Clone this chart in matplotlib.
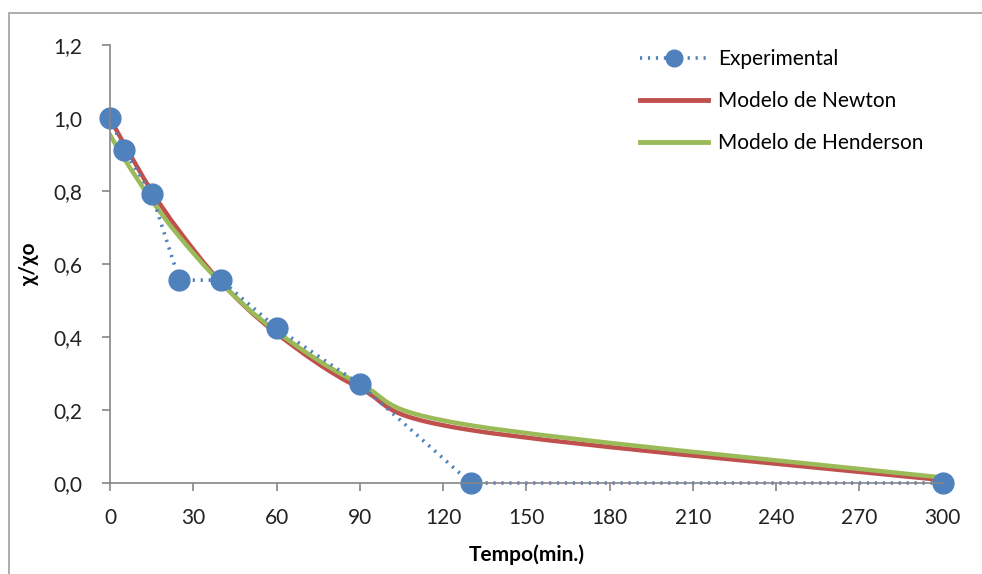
import numpy as np
import matplotlib.pyplot as plt
from matplotlib.path import Path
from matplotlib.patches import PathPatch, Rectangle
from matplotlib.lines import Line2D

# Dados
tempo = [0, 5, 15, 25, 40, 60, 90, 130, 300]
experimental = [1.0, 0.912, 0.792, 0.556, 0.556, 0.425, 0.271, 0.0, 0.0]
newton = [1.0, 0.93, 0.80, 0.69, 0.55, 0.41, 0.26, 0.145, 0.008]
henderson = [0.955, 0.89, 0.775, 0.675, 0.548, 0.415, 0.272, 0.158, 0.015]

x_ticks = [0, 30, 60, 90, 120, 150, 180, 210, 240, 270, 300]
y_ticks = [0.0, 0.2, 0.4, 0.6, 0.8, 1.0, 1.2]

azul = '#4F81BD'
vermelho = '#C0504D'
verde = '#9BBB59'

plt.rcParams['font.family'] = ['Lato', 'DejaVu Sans']
fs = 15


def curva_suave(ax, xs, ys, cor, lw):
    # linha suavizada tipo Excel (Bezier passando pelos pontos)
    xs = np.asarray(xs, float)
    ys = np.asarray(ys, float)
    n = len(xs)
    verts = [(xs[0], ys[0])]
    codes = [Path.MOVETO]
    t = 1 / 6
    for i in range(n - 1):
        x0, y0 = (xs[i - 1], ys[i - 1]) if i > 0 else (xs[i], ys[i])
        x1, y1 = xs[i], ys[i]
        x2, y2 = xs[i + 1], ys[i + 1]
        x3, y3 = (xs[i + 2], ys[i + 2]) if i + 2 < n else (x2, y2)
        c1 = (x1 + (x2 - x0) * t, y1 + (y2 - y0) * t)
        c2 = (x2 - (x3 - x1) * t, y2 - (y3 - y1) * t)
        verts += [c1, c2, (x2, y2)]
        codes += [Path.CURVE4] * 3
    patch = PathPatch(Path(verts, codes), facecolor='none', edgecolor=cor,
                      lw=lw, capstyle='round', joinstyle='round')
    ax.add_patch(patch)


fig = plt.figure(figsize=(9.82, 5.74), dpi=100)
fig.patches.append(Rectangle((0.009, -0.1), 1.2, 1.077, transform=fig.transFigure,
                             fill=False, edgecolor='#A0A0A0', lw=1.2))
ax = fig.add_axes([0.112, 0.1585, 0.848, 0.763])

ax.plot(tempo, experimental, linestyle=(0, (0.6, 1.6)), color=azul, lw=2.6,
        marker='o', markersize=15, markeredgecolor=azul, zorder=2, clip_on=False)
curva_suave(ax, tempo, newton, vermelho, 3.2)
curva_suave(ax, tempo, henderson, verde, 3.2)

ax.set_xlim(0, 300)
ax.set_ylim(0, 1.2)
ax.set_xticks(x_ticks)
ax.set_yticks(y_ticks)
ax.set_yticklabels([f'{v:.1f}'.replace('.', ',') for v in y_ticks])
for s in ['top', 'right']:
    ax.spines[s].set_visible(False)
for s in ['left', 'bottom']:
    ax.spines[s].set_color('#868686')
    ax.spines[s].set_linewidth(1.2)
ax.tick_params(axis='both', colors='#868686', length=6, width=1.2,
               labelsize=fs, labelcolor='#222222')
ax.tick_params(axis='y', pad=14)
ax.tick_params(axis='x', pad=12)

ax.set_xlabel('Tempo(min.)', fontsize=fs, fontweight='bold', labelpad=12)
ax.set_ylabel('χ/χo', fontsize=fs, fontweight='bold', labelpad=10)

handles = [
    Line2D([], [], linestyle=(0, (0.6, 1.6)), color=azul, lw=2.6, marker='o',
           markersize=12),
    Line2D([], [], color=vermelho, lw=3.5),
    Line2D([], [], color=verde, lw=3.5),
]
ax.legend(handles, ['Experimental', 'Modelo de Newton', 'Modelo de Henderson'],
          loc='upper left', bbox_to_anchor=(0.636, 0.99), frameon=False,
          borderaxespad=0, borderpad=0,
          fontsize=fs, handlelength=3.3, handletextpad=0.45, labelspacing=1.05)

fig.savefig('out.png', dpi=100)
